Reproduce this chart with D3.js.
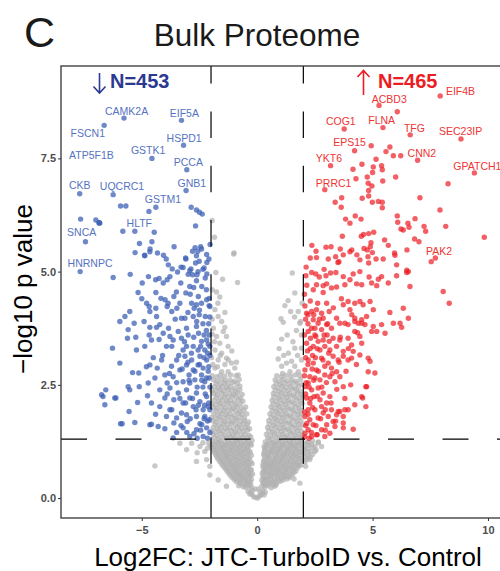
<!DOCTYPE html>
<html>
<head>
<meta charset="utf-8">
<script src="https://cdn.jsdelivr.net/npm/d3@7"></script>
<style>
  body { margin: 0; background: #fff; }
  svg { display: block; }
  text { font-family: "Liberation Sans", Arial, Helvetica, sans-serif; }
</style>
</head>
<body>
<div id="chart"></div>
<script>

//data: [log2FC, -log10 p]
var downReg = [
  [-5.92,6.45],[-5.69,6.45],[-4.69,6.33],[-2.86,6.42],[-2.63,6.36],[-2.50,6.31],[-2.38,6.27],[-7.65,6.16],
  [-6.99,6.14],[-6.85,6.08],[-6.82,6.07],[-2.67,6.01],[-5.82,5.89],[-4.46,5.87],[-2.04,5.60],[-5.10,5.62],
  [-4.56,5.66],[-4.64,5.50],[-5.29,5.42],[-4.87,5.35],[-4.32,5.41],[-4.06,5.36],[-3.94,5.28],[-2.69,5.53],
  [-2.41,5.50],[-2.63,5.35],[-2.19,5.38],[-3.09,5.28],[-2.51,5.23],[-2.09,5.28],[-2.67,5.19],[-3.68,5.06],
  [-3.45,4.99],[-3.21,5.09],[-2.92,5.02],[-2.80,4.93],[-2.56,5.00],[-2.30,5.08],[-4.88,5.36],[-4.65,5.44],
  [-3.10,5.30],[-2.57,5.45],
  [-6.24,4.87],[-5.50,4.94],[-4.71,4.89],[-4.98,4.75],[-4.40,4.82],[-4.07,4.75],[-3.90,4.82],[-3.31,4.75],
  [-3.09,4.53],[-2.99,4.94],[-2.87,5.06],[-2.61,4.93],[-2.63,4.80],[-2.25,4.86],[-2.40,4.67],[-2.92,4.67],
  [-3.78,4.89],[-5.16,4.54],[-4.39,4.54],
  [-4.79,4.30],[-4.68,4.23],[-4.65,4.12],[-4.39,4.19],[-4.17,4.41],[-3.99,4.38],[-3.86,4.30],[-3.90,4.23],
  [-3.61,4.45],[-3.70,4.12],[-3.48,4.19],[-3.35,4.30],[-3.13,3.97],[-2.84,4.30],[-2.73,4.19],[-2.63,4.27],
  [-2.41,4.30],[-2.19,4.38],[-2.08,4.41],[-2.05,4.23],[-2.25,4.01],[-2.51,4.05],[-2.77,4.01],[-3.28,3.97],
  [-4.36,4.01],[-5.52,4.12],[-5.73,4.01],[-5.95,3.90],[-5.59,3.72],
  [-5.33,3.86],[-5.26,3.55],[-4.65,3.77],[-4.36,3.77],[-4.68,3.60],[-4.58,3.49],[-4.22,3.83],[-4.07,3.64],
  [-3.84,3.75],[-3.78,3.57],[-3.93,3.35],[-3.64,3.49],[-3.42,3.68],[-3.28,3.53],[-3.21,3.27],[-3.06,3.75],
  [-2.99,3.60],[-2.77,3.35],[-2.63,3.79],[-2.54,3.64],[-2.41,3.46],[-2.27,3.27],[-2.19,3.49],[-2.08,3.60],
  [-2.56,3.27],[-3.06,3.35],[-4.87,3.35],[-6.27,3.31],[-5.95,2.98],[-5.23,3.27],[-5.62,3.53],
  [-5.40,2.77],[-5.13,2.76],[-4.72,2.54],[-4.65,2.94],[-4.33,2.87],[-4.14,3.05],[-4.00,2.72],[-3.90,2.54],
  [-3.71,2.91],[-3.64,2.68],[-3.49,3.05],[-3.35,2.83],[-3.21,2.57],[-3.13,3.13],[-3.06,2.94],[-2.95,2.72],
  [-2.84,3.05],[-2.77,2.83],[-2.70,2.61],[-2.56,2.94],[-2.48,3.13],[-2.41,2.72],[-2.34,2.87],[-2.27,2.57],
  [-2.19,3.05],[-2.12,2.80],[-2.08,2.65],[-2.92,2.54],[-3.49,2.55],[-4.43,2.65],
  [-6.68,2.24],[-6.60,2.06],[-6.12,2.21],[-5.55,1.91],[-5.18,2.11],[-5.11,2.46],[-4.75,2.26],[-4.58,2.10],
  [-5.52,2.39],[-4.22,2.39],[-4.00,2.21],[-3.78,2.43],[-3.61,2.17],[-3.42,2.32],[-3.21,2.10],[-3.06,2.39],
  [-2.92,2.21],[-2.77,2.02],[-2.63,2.32],[-2.48,2.13],[-2.34,1.95],[-2.19,2.24],[-2.12,2.02],[-3.78,1.95],
  [-3.28,1.88],[-4.22,2.02],
  [-5.92,1.64],[-5.30,1.67],[-4.65,1.62],[-4.29,1.58],[-4.00,1.53],[-3.61,1.66],[-3.49,1.45],[-3.21,1.55],
  [-3.03,1.69],[-2.92,1.36],[-2.74,1.42],[-2.63,1.51],[-2.48,1.64],[-2.34,1.36],[-2.19,1.55],[-2.08,1.73],
  [-2.27,1.80],[-2.63,1.80],[-3.06,1.84],[-3.49,1.77],[-3.93,1.80],
  [-6.74,2.28],[-6.56,2.39],[-6.17,2.21],[-5.59,2.46],[-5.85,1.64],[-4.58,1.63],[-3.64,1.33],
  [-2.05,1.45],[-2.15,1.70],[-2.10,2.10],[-2.05,2.45],[-2.10,2.90],[-2.05,3.15],[-2.10,3.85],[-2.05,4.00],
  [-2.20,3.70],[-2.30,3.10],[-2.35,2.45],[-2.30,1.75],[-2.45,1.50],[-2.40,2.60],[-2.50,2.95],[-2.45,3.35],
  [-2.35,3.85],[-2.50,4.15],[-2.60,2.45],[-2.65,1.95],[-2.70,2.80],[-2.75,3.55],[-2.85,3.20],[-2.80,2.20],
  [-2.90,1.75],[-2.95,2.60],[-3.00,3.00],[-3.10,2.10],[-3.15,3.45],[-3.25,2.85],[-3.35,2.20],[-3.40,3.15],
  [-2.20,4.60],[-2.35,5.05],[-2.15,1.32],[-2.60,1.32],[-3.05,1.45],[-2.25,2.30],[-2.55,2.05],[-2.20,2.65],
  [-2.12,3.40],[-2.62,3.90],[-3.00,4.10],[-2.90,4.50],[-3.50,4.55],[-3.55,3.95],[-3.70,3.35],[-3.80,2.75],
  [-3.90,2.30],[-4.10,3.15],[-4.25,3.50],[-4.50,3.10],[-4.80,2.90],[-4.90,3.90],[-5.00,4.40],[-3.30,1.60],
  [-3.70,1.95],[-4.40,1.85],[-2.08,4.25],[-2.18,5.20],[-2.45,5.55],[-2.80,5.45],[-3.30,5.10],[-3.60,5.55],
  [-3.85,5.15],[-4.25,4.85],[-2.15,3.20],[-2.28,2.05],[-2.40,1.62],[-2.05,1.95],[-2.05,3.35],[-2.30,3.60],
  [-2.55,4.45],[-2.75,4.65],[-2.18,4.95]
];

var upReg = [
  [6.07,8.53],[5.58,7.65],[5.75,7.75],[5.90,7.56],[6.22,7.56],[5.15,7.48],[4.54,7.37],[5.03,7.31],
  [5.39,7.34],[5.42,7.25],[4.15,7.26],[5.00,7.19],[4.77,7.09],[5.44,7.00],[6.00,7.09],[4.28,7.05],
  [4.81,6.95],[4.97,6.89],[8.27,6.94],[4.83,6.79],[4.83,6.67],[4.55,6.62],[7.05,6.63],[3.66,6.63],
  [3.38,6.53],[3.64,6.42],[4.99,6.53],[5.25,6.55],[5.42,6.53],[5.42,6.41],[7.92,6.36],[3.83,6.16],
  [4.02,6.07],[4.25,6.23],[4.50,6.16],[6.07,6.23],[6.09,6.09],[6.84,6.17],[6.53,6.07],[6.58,5.98],
  [6.23,5.94],[6.33,5.92],[7.23,6.00],[7.30,5.89],[8.17,6.00],[9.84,5.76],[3.69,5.78],[2.37,5.58],
  [2.98,5.54],[4.51,5.78],[4.61,5.82],[4.83,5.84],[5.05,5.87],[4.93,5.64],[4.90,5.55],[3.60,5.50],
  [4.02,5.44],[4.10,5.48],[4.63,5.51],[4.77,5.48],[4.99,5.42],[5.52,5.70],[5.68,5.58],[5.95,5.41],
  [6.49,5.48],[6.82,5.72],[7.01,5.66],[2.57,5.31],[3.08,5.28],[3.40,5.33],[3.54,5.22],[3.73,5.37],
  [4.32,5.37],[4.45,5.26],[4.80,5.33],[4.83,5.19],[5.15,5.28],[5.46,5.28],[5.97,5.36],[6.04,5.15],
  [6.48,5.03],[6.55,5.00],[4.94,7.78],[7.54,5.22],
  [2.36,4.98],[2.54,4.95],[2.11,4.91],[2.69,4.88],[2.98,4.91],[3.18,4.97],[3.41,4.98],[3.73,4.89],
  [4.16,4.95],[4.45,5.00],[4.85,4.88],[5.25,4.83],[5.39,4.89],[6.04,4.91],[6.48,4.98],[2.57,4.71],
  [2.86,4.69],[3.01,4.73],[3.44,4.66],[3.80,4.71],[4.02,4.82],[4.31,4.73],[4.53,4.71],[4.96,4.75],
  [5.18,4.69],[5.68,4.75],[6.62,4.67],[2.43,4.60],[2.86,4.54],[3.22,4.64],[8.06,4.56],[8.32,4.30],
  [2.07,4.24],[2.14,4.08],[2.36,4.12],[2.57,4.16],[2.79,4.08],[3.01,4.30],[3.12,4.12],[2.86,3.97],
  [2.64,3.86],[2.43,3.94],[2.50,3.75],[2.79,3.72],[3.01,3.83],[3.22,3.75],[3.44,3.97],[3.58,3.86],
  [3.73,4.27],[3.94,4.34],[4.02,4.16],[4.23,4.30],[4.45,4.34],[4.59,4.27],[4.89,4.34],[5.03,4.16],
  [3.80,3.86],[3.94,3.83],[4.23,3.90],[4.38,3.86],[4.53,3.94],[4.67,3.83],[4.74,4.01],[4.96,3.68],
  [5.18,3.68],[5.03,3.79],[5.39,3.83],[5.54,3.64],[5.75,4.10],[5.90,3.86],[6.19,3.86],[6.33,4.19],
  [6.55,3.97],[6.26,3.77],[4.23,3.97],[4.53,3.86],
  [2.14,3.42],[2.21,3.68],[2.31,3.53],[2.43,3.35],[2.54,3.57],[2.64,3.46],[2.72,3.27],[2.86,3.49],
  [2.93,3.35],[3.03,3.60],[3.12,3.46],[3.15,3.27],[3.29,3.53],[3.44,3.35],[3.58,3.49],[3.73,3.24],
  [3.94,3.53],[4.09,3.38],[4.16,3.24],[4.23,3.68],[4.45,3.57],[4.53,3.42],[3.29,3.13],[3.51,3.05],
  [3.73,3.13],[3.94,3.05],[4.09,3.09],[4.45,3.16],[4.81,3.09],[4.89,3.02],[2.21,3.05],[2.43,2.98],
  [2.57,2.83],[2.79,3.09],[2.93,2.91],[3.08,2.98],[3.22,2.87],[3.44,2.79],[3.58,2.68],[3.73,2.46],
  [2.07,2.83],[2.28,2.68],[2.50,2.65],[2.72,2.61],[2.93,2.72],[3.15,2.68],[3.37,2.57],[4.74,2.46],
  [4.81,2.79],[5.10,2.76],
  [2.07,2.46],[2.21,2.54],[2.36,2.39],[2.14,2.21],[2.28,2.10],[2.46,2.24],[2.64,2.43],[2.72,2.17],
  [2.86,2.32],[3.01,2.10],[3.15,2.24],[2.79,2.02],[2.50,1.95],[2.21,1.95],[2.07,1.80],[2.28,1.73],
  [2.43,1.62],[2.64,1.77],[2.86,1.88],[3.08,1.80],[3.22,1.95],[3.29,1.69],[3.44,1.84],[3.58,1.91],
  [3.73,1.80],[3.73,1.66],[3.37,1.58],[3.01,1.62],[2.79,1.51],[2.57,1.40],[2.21,1.51],[2.07,1.43],
  [2.36,1.36],[2.93,1.36],[3.15,1.43],[3.73,1.55],[3.80,1.95],[3.94,1.95],[4.23,2.06],[4.57,2.21],
  [4.71,2.02],[4.71,2.46],[4.53,2.24],[3.51,1.91],[4.16,1.52],
  [2.05,1.35],[2.10,1.60],[2.05,1.90],[2.10,2.30],[2.05,2.70],[2.10,3.10],[2.05,3.60],[2.10,3.95],
  [2.05,4.50],[2.20,1.85],[2.25,2.45],[2.20,2.95],[2.30,3.30],[2.20,3.85],[2.30,4.35],[2.15,4.70],
  [2.35,1.45],[2.40,2.00],[2.45,2.60],[2.40,3.15],[2.50,3.60],[2.45,4.05],[2.55,1.60],[2.60,2.25],
  [2.65,2.80],[2.60,3.30],[2.70,3.95],[2.75,1.75],[2.80,2.45],[2.85,3.05],[2.90,3.60],[2.95,1.95],
  [3.00,2.55],[3.10,3.20],[3.05,3.85],[3.20,2.10],[3.25,2.75],[3.30,4.20],[3.40,1.70],[3.45,2.40],
  [3.55,3.00],[3.60,3.55],[3.65,4.40],[3.80,2.20],[3.85,2.80],[3.95,3.30],[4.05,2.50],[4.10,4.05],
  [4.30,2.95],[4.35,3.65],[2.12,5.10],[2.30,5.30],[2.55,5.45],[2.90,5.05],[3.20,5.55],[3.50,5.20],
  [2.25,1.32],[2.60,1.40],[2.95,1.50],[2.15,1.65],[2.32,2.20],[2.12,2.55],[2.38,2.85],[2.18,3.25],
  [2.52,3.10],[2.35,3.75],[2.62,4.30],[2.20,4.05]
];

var notSig = [
  [-0.15,0.03],[-0.06,0.01],[0.02,0.00],[0.08,0.04],[0.15,0.06],[-0.22,0.08],[0.22,0.10],
  [-0.40,0.15],[-0.30,0.12],[-0.20,0.17],[0.12,0.14],[0.25,0.16],[0.35,0.13],[-0.10,0.20],[0.05,0.20],
  [-0.80,0.27],[-0.60,0.25],[-0.48,0.24],[-0.35,0.27],[-0.25,0.23],[0.20,0.26],[0.32,0.24],[0.45,0.27],[0.60,0.23],[0.75,0.26],
  [-0.90,0.36],[-0.75,0.34],[-0.60,0.37],[-0.45,0.34],[-0.30,0.36],[0.25,0.35],[0.40,0.37],[0.55,0.33],[0.70,0.36],[0.85,0.34],[1.00,0.37],
  [-1.10,0.46],[-0.95,0.44],[-0.80,0.47],[-0.65,0.45],[-0.50,0.43],[-0.35,0.47],[0.28,0.45],[0.42,0.43],[0.58,0.47],[0.75,0.44],[0.90,0.46],[1.05,0.43],[1.20,0.47],[1.40,0.45],
  [-1.25,0.56],[-1.10,0.54],[-0.95,0.57],[-0.80,0.53],[-0.65,0.56],[-0.50,0.54],[-0.35,0.57],[-0.20,0.53],[0.22,0.55],[0.35,0.57],[0.50,0.53],[0.65,0.56],[0.80,0.54],[0.95,0.57],[1.10,0.53],[1.25,0.56],[1.45,0.54],[1.60,0.57],
  [-1.40,0.66],[-1.25,0.64],[-1.10,0.67],[-0.95,0.63],[-0.80,0.66],[-0.62,0.64],[-0.45,0.67],[-0.30,0.63],[0.30,0.65],[0.45,0.67],[0.60,0.63],[0.75,0.66],[0.92,0.64],[1.08,0.67],[1.25,0.63],[1.40,0.66],[1.58,0.64],[1.75,0.67],
  [-1.55,0.76],[-1.40,0.74],[-1.22,0.77],[-1.05,0.73],[-0.90,0.76],[-0.72,0.74],[-0.55,0.77],[-0.38,0.73],[-0.22,0.76],[0.25,0.74],[0.40,0.77],[0.55,0.73],[0.72,0.76],[0.88,0.74],[1.05,0.77],[1.20,0.73],[1.38,0.76],[1.55,0.74],[1.72,0.77],[1.90,0.73],
  [-1.70,0.86],[-1.52,0.84],[-1.35,0.87],[-1.18,0.83],[-1.00,0.86],[-0.85,0.84],[-0.68,0.87],[-0.50,0.83],[-0.33,0.86],[0.30,0.84],[0.48,0.87],[0.65,0.83],[0.80,0.86],[0.97,0.84],[1.12,0.87],[1.30,0.83],[1.48,0.86],[1.65,0.84],[1.82,0.87],[2.00,0.83],[2.15,0.86],
  [-1.80,0.96],[-1.62,0.94],[-1.45,0.97],[-1.30,0.93],[-1.12,0.96],[-0.95,0.94],[-0.78,0.97],[-0.60,0.93],[-0.42,0.96],[-0.25,0.94],[0.28,0.96],[0.45,0.93],[0.60,0.97],[0.78,0.94],[0.95,0.96],[1.12,0.93],[1.30,0.97],[1.45,0.94],[1.62,0.96],[1.80,0.93],[1.98,0.97],[2.20,0.94],[2.40,0.96],
  [-1.90,1.06],[-1.72,1.04],[-1.55,1.07],[-1.38,1.03],[-1.20,1.06],[-1.05,1.04],[-0.88,1.07],[-0.70,1.03],[-0.52,1.06],[-0.35,1.04],[0.32,1.06],[0.50,1.03],[0.68,1.07],[0.85,1.04],[1.00,1.06],[1.18,1.03],[1.35,1.07],[1.52,1.04],[1.70,1.06],[1.88,1.03],[2.05,1.07],[2.30,1.04],[2.55,1.06],
  [-2.00,1.16],[-1.82,1.14],[-1.65,1.17],[-1.48,1.13],[-1.30,1.16],[-1.12,1.14],[-0.95,1.17],[-0.78,1.13],[-0.60,1.16],[-0.42,1.14],[-0.25,1.17],[0.30,1.14],[0.45,1.17],[0.62,1.13],[0.80,1.16],[0.98,1.14],[1.15,1.17],[1.32,1.13],[1.50,1.16],[1.68,1.14],[1.85,1.17],[2.05,1.13],[2.25,1.16],[2.50,1.14],
  [-1.95,1.26],[-1.78,1.24],[-1.60,1.27],[-1.42,1.23],[-1.25,1.26],[-1.08,1.24],[-0.90,1.27],[-0.72,1.23],[-0.55,1.26],[-0.38,1.24],[-0.22,1.27],[0.35,1.24],[0.52,1.27],[0.70,1.23],[0.88,1.26],[1.05,1.24],[1.22,1.27],[1.40,1.23],[1.58,1.26],[1.75,1.24],[1.92,1.27],[2.15,1.23],[2.40,1.26],[2.65,1.24],
  [-1.92,1.41],[-1.75,1.38],[-1.58,1.42],[-1.40,1.39],[-1.22,1.41],[-1.05,1.38],[-0.88,1.42],[-0.70,1.39],[-0.52,1.41],[-0.35,1.38],[0.40,1.41],[0.58,1.38],[0.75,1.42],[0.92,1.39],[1.10,1.41],[1.28,1.38],[1.45,1.42],[1.62,1.39],[1.80,1.41],[1.95,1.38],
  [-1.90,1.56],[-1.72,1.53],[-1.55,1.57],[-1.38,1.54],[-1.20,1.56],[-1.02,1.53],[-0.85,1.57],[-0.68,1.54],[-0.50,1.56],[-0.33,1.53],[0.45,1.56],[0.62,1.53],[0.80,1.57],[0.98,1.54],[1.15,1.56],[1.32,1.53],[1.50,1.57],[1.68,1.54],[1.85,1.56],
  [-1.95,1.71],[-1.78,1.68],[-1.60,1.72],[-1.42,1.69],[-1.25,1.71],[-1.08,1.68],[-0.90,1.72],[-0.72,1.69],[-0.55,1.71],[-0.38,1.68],[0.50,1.71],[0.68,1.68],[0.85,1.72],[1.02,1.69],[1.20,1.71],[1.38,1.68],[1.55,1.72],[1.72,1.69],[1.90,1.71],
  [-1.88,1.86],[-1.70,1.83],[-1.52,1.87],[-1.35,1.84],[-1.18,1.86],[-1.00,1.83],[-0.82,1.87],[-0.65,1.84],[-0.45,1.86],[0.55,1.86],[0.72,1.83],[0.90,1.87],[1.08,1.84],[1.25,1.86],[1.42,1.83],[1.60,1.87],[1.78,1.84],[1.95,1.86],
  [-1.92,2.01],[-1.75,1.98],[-1.58,2.02],[-1.40,1.99],[-1.22,2.01],[-1.05,1.98],[-0.88,2.02],[-0.70,1.99],[-0.50,2.01],[0.60,2.01],[0.78,1.98],[0.95,2.02],[1.12,1.99],[1.30,2.01],[1.48,1.98],[1.65,2.02],[1.82,1.99],
  [-1.85,2.16],[-1.68,2.13],[-1.50,2.17],[-1.32,2.14],[-1.15,2.16],[-0.98,2.13],[-0.80,2.17],[-0.62,2.14],[0.65,2.16],[0.82,2.13],[1.00,2.17],[1.18,2.14],[1.35,2.16],[1.52,2.13],[1.70,2.17],[1.88,2.14],
  [-1.90,2.31],[-1.72,2.28],[-1.55,2.32],[-1.38,2.29],[-1.20,2.31],[-1.02,2.28],[-0.85,2.32],[-0.65,2.29],[0.70,2.31],[0.88,2.28],[1.05,2.32],[1.22,2.29],[1.40,2.31],[1.58,2.28],[1.75,2.32],[1.92,2.29],
  [-1.85,2.46],[-1.68,2.43],[-1.50,2.47],[-1.32,2.44],[-1.15,2.46],[-0.95,2.43],[-0.75,2.47],[0.72,2.46],[0.90,2.43],[1.08,2.47],[1.25,2.44],[1.45,2.46],[1.62,2.43],[1.80,2.47],
  [-1.90,2.61],[-1.72,2.58],[-1.55,2.62],[-1.38,2.59],[-1.18,2.61],[-0.98,2.58],[-0.78,2.62],[0.78,2.61],[0.95,2.58],[1.12,2.62],[1.30,2.59],[1.50,2.61],[1.68,2.58],[1.88,2.62],
  //second pass, in between
  [-0.32,0.09],[0.30,0.07],[-0.70,0.31],[-0.53,0.29],[-0.40,0.32],[-0.28,0.30],[0.28,0.31],[0.38,0.29],[0.52,0.32],[0.68,0.30],[0.82,0.29],
  [-1.00,0.41],[-0.83,0.39],[-0.68,0.42],[-0.52,0.40],[-0.38,0.38],[-0.25,0.41],[0.20,0.40],[0.33,0.42],[0.48,0.39],[0.62,0.41],[0.78,0.38],[0.95,0.41],[1.12,0.40],[1.28,0.42],
  [-1.18,0.51],[-1.02,0.49],[-0.87,0.52],[-0.72,0.50],[-0.57,0.48],[-0.42,0.51],[-0.28,0.50],[0.25,0.49],[0.42,0.51],[0.57,0.50],[0.72,0.52],[0.87,0.49],[1.02,0.51],[1.18,0.50],[1.35,0.48],[1.52,0.51],
  [-1.32,0.61],[-1.17,0.59],[-1.02,0.62],[-0.88,0.60],[-0.72,0.58],[-0.55,0.61],[-0.40,0.60],[-0.25,0.62],[0.27,0.59],[0.40,0.61],[0.55,0.60],[0.70,0.62],[0.87,0.59],[1.00,0.61],[1.17,0.60],[1.32,0.58],[1.50,0.61],[1.68,0.60],
  [-1.48,0.71],[-1.32,0.69],[-1.17,0.72],[-1.00,0.70],[-0.85,0.68],[-0.70,0.71],[-0.53,0.70],[-0.37,0.72],[0.25,0.69],[0.38,0.71],[0.52,0.70],[0.68,0.72],[0.83,0.69],[1.00,0.71],[1.15,0.70],[1.32,0.68],[1.48,0.71],[1.65,0.70],[1.82,0.72],
  [-1.62,0.81],[-1.45,0.79],[-1.30,0.82],[-1.12,0.80],[-0.95,0.78],[-0.78,0.81],[-0.62,0.80],[-0.45,0.82],[-0.28,0.79],[0.28,0.81],[0.45,0.80],[0.60,0.78],[0.77,0.81],[0.93,0.80],[1.10,0.82],[1.27,0.79],[1.43,0.81],[1.60,0.80],[1.78,0.78],[1.95,0.81],[2.08,0.80],
  [-1.75,0.91],[-1.58,0.89],[-1.42,0.92],[-1.25,0.90],[-1.08,0.88],[-0.92,0.91],[-0.75,0.90],[-0.58,0.92],[-0.40,0.89],[0.32,0.91],[0.50,0.90],[0.68,0.88],[0.85,0.91],[1.02,0.90],[1.20,0.92],[1.37,0.89],[1.55,0.91],[1.72,0.90],[1.90,0.88],[2.08,0.91],[2.30,0.90],
  [-1.85,1.01],[-1.68,0.99],[-1.50,1.02],[-1.33,1.00],[-1.17,0.98],[-1.00,1.01],[-0.82,1.00],[-0.65,1.02],[-0.48,0.99],[-0.30,1.01],[0.30,1.00],[0.47,0.98],[0.63,1.01],[0.80,1.00],[0.97,1.02],[1.15,0.99],[1.32,1.01],[1.50,1.00],[1.67,0.98],[1.85,1.01],[2.02,1.00],[2.20,1.02],
  [-1.95,1.11],[-1.78,1.09],[-1.60,1.12],[-1.43,1.10],[-1.25,1.08],[-1.08,1.11],[-0.92,1.10],[-0.75,1.12],[-0.57,1.09],[-0.40,1.11],[0.35,1.10],[0.55,1.08],[0.72,1.11],[0.90,1.10],[1.07,1.12],[1.25,1.09],[1.42,1.11],[1.60,1.10],[1.78,1.08],[1.95,1.11],[2.15,1.10],[2.40,1.12],
  [-2.10,1.21],[-1.88,1.19],[-1.70,1.22],[-1.53,1.20],[-1.37,1.18],[-1.20,1.21],[-1.02,1.20],[-0.85,1.22],[-0.67,1.19],[-0.48,1.21],[-0.30,1.20],[0.40,1.18],[0.58,1.21],[0.75,1.20],[0.92,1.22],[1.10,1.19],[1.28,1.21],[1.45,1.20],[1.62,1.18],[1.80,1.21],[1.98,1.20],[2.20,1.22],[2.35,1.19],
  [-1.85,1.33],[-1.68,1.31],[-1.50,1.34],[-1.33,1.32],[-1.15,1.35],[-0.97,1.33],[-0.80,1.31],[-0.62,1.34],[-0.45,1.32],[-0.28,1.35],[0.45,1.33],[0.65,1.31],[0.82,1.34],[1.00,1.32],[1.18,1.35],[1.35,1.33],[1.52,1.31],[1.70,1.34],[1.88,1.32],
  [-1.98,1.48],[-1.82,1.46],[-1.65,1.49],[-1.48,1.47],[-1.30,1.50],[-1.12,1.48],[-0.95,1.46],[-0.78,1.49],[-0.60,1.47],[-0.42,1.50],[0.50,1.48],[0.68,1.46],[0.87,1.49],[1.05,1.47],[1.22,1.50],[1.40,1.48],[1.57,1.46],[1.75,1.49],[1.92,1.47],
  [-1.82,1.63],[-1.65,1.61],[-1.47,1.64],[-1.30,1.62],[-1.12,1.65],[-0.95,1.63],[-0.78,1.61],[-0.60,1.64],[-0.43,1.62],[0.52,1.63],[0.72,1.61],[0.90,1.64],[1.08,1.62],[1.25,1.65],[1.43,1.63],[1.62,1.61],[1.80,1.64],[1.97,1.62],
  [-1.98,1.78],[-1.80,1.76],[-1.62,1.79],[-1.45,1.77],[-1.28,1.80],[-1.10,1.78],[-0.92,1.76],[-0.75,1.79],[-0.55,1.77],[0.60,1.78],[0.78,1.76],[0.95,1.79],[1.12,1.77],[1.30,1.80],[1.48,1.78],[1.67,1.76],[1.85,1.79],
  [-1.80,1.93],[-1.62,1.91],[-1.45,1.94],[-1.28,1.92],[-1.10,1.95],[-0.93,1.93],[-0.75,1.91],[-0.57,1.94],[0.65,1.93],[0.83,1.91],[1.00,1.94],[1.18,1.92],[1.37,1.95],[1.55,1.93],[1.73,1.91],[1.90,1.94],
  [-1.97,2.08],[-1.80,2.06],[-1.62,2.09],[-1.45,2.07],[-1.27,2.10],[-1.10,2.08],[-0.92,2.06],[-0.72,2.09],[0.68,2.08],[0.87,2.06],[1.05,2.09],[1.23,2.07],[1.42,2.10],[1.60,2.08],[1.78,2.06],[1.95,2.09],
  [-1.78,2.23],[-1.60,2.21],[-1.42,2.24],[-1.25,2.22],[-1.07,2.25],[-0.90,2.23],[-0.72,2.21],[0.72,2.23],[0.92,2.21],[1.10,2.24],[1.28,2.22],[1.45,2.25],[1.63,2.23],[1.82,2.21],[1.97,2.24],
  [-1.97,2.38],[-1.80,2.36],[-1.62,2.39],[-1.45,2.37],[-1.28,2.40],[-1.10,2.38],[-0.93,2.36],[-0.75,2.39],[0.78,2.38],[0.97,2.36],[1.15,2.39],[1.33,2.37],[1.52,2.40],[1.70,2.38],[1.87,2.36],
  [-1.78,2.53],[-1.60,2.51],[-1.42,2.54],[-1.25,2.52],[-1.05,2.55],[-0.85,2.53],[0.82,2.53],[1.00,2.51],[1.18,2.54],[1.38,2.52],[1.55,2.55],[1.73,2.53],[1.95,2.51],
  [-1.95,2.70],[-1.75,2.68],[-1.60,2.71],[-1.40,2.69],[-1.15,2.72],[-0.92,2.70],[0.85,2.70],[1.05,2.68],[1.25,2.71],[1.45,2.69],[1.65,2.72],[1.85,2.70],
  //upper arms
  [-1.83,2.87],[-1.54,2.79],[-1.26,2.79],[-0.97,2.87],[-0.82,2.72],[-1.69,3.05],[-1.11,2.98],[-1.33,3.09],[-1.54,3.20],[-1.83,3.27],
  [-1.26,3.35],[-1.62,3.42],[-1.76,3.57],[-1.33,3.57],[-1.47,3.68],[-1.40,3.77],[-1.54,3.90],[-1.69,4.01],
  [-1.83,4.16],[-1.62,4.44],[-1.76,4.55],[-0.85,4.76],[-1.50,4.83],[-1.79,4.98],[-1.00,5.41],[-1.02,5.39],
  [-1.95,6.13],[-1.85,5.76],[-1.90,3.75],[-1.92,2.95],
  [-1.72,2.90],[-1.40,2.95],[-1.98,3.10],[-1.60,3.15],[-1.85,3.45],[-1.95,3.62],[-1.10,3.25],[-1.25,3.05],
  [-0.90,3.00],[-1.95,3.95],[-1.70,4.30],[-1.95,4.60],[-1.40,4.10],
  [1.52,4.97],[1.63,4.53],[1.34,4.36],[1.78,4.12],[1.45,4.12],[1.03,3.96],[1.13,3.88],[1.06,3.51],
  [1.63,3.31],[1.92,3.31],[0.91,3.07],[1.27,2.98],[1.49,3.02],[1.63,2.91],[1.06,2.91],[1.42,2.79],
  [1.78,2.79],[1.92,3.05],[1.85,3.86],[1.92,3.60],[1.70,3.70],
  [1.15,3.15],[1.35,3.20],[1.75,3.15],[1.55,3.45],[1.30,3.60],[1.88,3.90],[1.62,4.00],[1.95,4.30],
  [1.20,4.25],[0.95,3.30],[1.10,2.75],
  //outside the fold-change limits, not significant
  [-3.35,1.21],[-3.06,1.07],[-2.84,1.21],[-2.48,1.14],[-2.27,1.03],[-2.19,0.85],[-2.05,0.70],[-2.63,0.81],
  [-4.43,0.71],[-2.05,0.51],[-1.69,0.40],[-1.33,0.26],[-2.35,1.22],[-2.15,1.10],[-2.60,1.00],
  [2.50,1.03],[2.79,1.14],[2.28,0.85],[1.85,0.33],[2.64,1.22],[2.10,0.70],[1.60,0.42]
];

//labelled genes: [name, log2FC, -log10 p]
var genesDown = [
  ["CAMK2A",-5.77,8.39],["FSCN1",-6.63,8.23],["EIF5A",-3.28,8.34],["HSPD1",-3.19,7.79],
  ["ATP5F1B",-6.85,6.08],["GSTK1",-4.56,7.50],["PCCA",-3.05,7.25],["CKB",-7.69,6.72],
  ["UQCRC1",-6.24,6.70],["GNB1",-3.08,6.79],["GSTM1",-4.39,6.42],["HLTF",-5.30,5.89],
  ["SNCA",-7.44,5.66],["HNRNPC",-7.67,5.00]
];
var genesUp = [
  ["EIF4B",7.93,8.88],["ACBD3",5.28,8.67],["COG1",3.77,8.15],["FLNA",5.45,8.18],
  ["TFG",6.63,8.02],["SEC23IP",8.83,7.93],["EPS15",4.22,7.67],["CNN2",6.95,7.46],
  ["YKT6",3.18,7.34],["GPATCH1",9.41,7.18],["PRRC1",2.93,6.81],["PAK2",7.72,5.30]
];

var xTicks = [-5, 0, 5, 10];
var yTicks = [0, 2.5, 5, 7.5];
var fcCut = 2;
var pCut = 1.301;
var nDown = 453;
var nUp = 465;


//label placement (px offset from the point)
var labelOffset = {
  CAMK2A: [-19, -2.6], FSCN1: [-33.6, 11.7], EIF5A: [-11.7, -3.7], HSPD1: [-17, -3.3],
  ATP5F1B: [-30, -64], GSTK1: [-21, -4], PCCA: [-13, -3.3], CKB: [-10.7, -5],
  UQCRC1: [-13.3, -4.3], GNB1: [-8.6, -3.7], GSTM1: [-11, -4.4], HLTF: [-8.3, -4.6],
  SNCA: [-18.4, -5.3], HNRNPC: [-12.6, -4.4],
  EIF4B: [5.7, -1], ACBD3: [-7.3, -2.4], COG1: [-18.3, -4.3], FLNA: [-14.7, -3.7],
  TFG: [-6.3, -3.3], SEC23IP: [-22, -4], EPS15: [-21.4, -5], CNN2: [-10, -3],
  YKT6: [-14.7, -4], GPATCH1: [-21, -3], PRRC1: [-9, -2.7], PAK2: [-9.3, -3.3]
};

var W = 500, H = 571;
var margin = {top: 66, left: 61, bottom: 53};

var xScale = d3.scaleLinear()
                .domain([-8.5, 11.5])
                .range([margin.left, margin.left + 20 * 23.08]);

var yScale = d3.scaleLinear()
                .domain([-0.44, 9.54])
                .range([H - margin.bottom, margin.top]);

var blue = "#3f62b5", red = "#ec1c24", grey = "#b0b0b0";

var svg = d3.select("#chart")
            .append("svg")
            .attr("width", W)
            .attr("height", H);


//points
function drawPoints(data, col, op) {
  svg.append("g")
      .selectAll("circle")
      .data(data)
      .enter()
      .append("circle")
      .attr("cx", function(d) {return xScale(d[0]);})
      .attr("cy", function(d) {return yScale(d[1]);})
      .attr("r", 2.7)
      .style("fill", col)
      .style("fill-opacity", op);
}

drawPoints(notSig, grey, 0.7);
drawPoints(downReg, blue, 0.75);
drawPoints(upReg, red, 0.7);
drawPoints(genesDown.map(function(g) {return [g[1], g[2]];}), blue, 0.75);
drawPoints(genesUp.map(function(g) {return [g[1], g[2]];}), red, 0.7);


//threshold lines
var x0 = xScale.range()[0], x1 = xScale.range()[1];
var y0 = yScale.range()[0], y1 = yScale.range()[1];

[-fcCut, fcCut].forEach(function(v) {
  svg.append("line")
      .attr("x1", xScale(v)).attr("x2", xScale(v))
      .attr("y1", y0).attr("y2", y1)
      .style("stroke", "#000")
      .style("stroke-width", 1.2)
      .style("stroke-dasharray", "26.5,27.8");
});

svg.append("line")
    .attr("x1", x0).attr("x2", x1)
    .attr("y1", yScale(pCut)).attr("y2", yScale(pCut))
    .style("stroke", "#000")
    .style("stroke-width", 1.2)
    .style("stroke-dasharray", "26,28.5");


//panel border
svg.append("rect")
    .attr("x", x0)
    .attr("y", y1)
    .attr("width", x1 - x0)
    .attr("height", y0 - y1)
    .style("fill", "none")
    .style("stroke", "#333")
    .style("stroke-width", 1.3);


//axes
var yAxis = d3.axisLeft(yScale)
              .tickValues(yTicks)
              .tickSize(3)
              .tickPadding(2)
              .tickFormat(d3.format(".1f"));

var xAxis = d3.axisBottom(xScale)
              .tickValues(xTicks)
              .tickSize(3)
              .tickPadding(5)
              .tickFormat(function(d) {return d < 0 ? "\u2212" + Math.abs(d) : d;});

var gy = svg.append("g")
    .attr("transform", "translate(" + x0 + ",0)")
    .call(yAxis);

var gx = svg.append("g")
    .attr("transform", "translate(0," + y0 + ")")
    .call(xAxis);

[gx, gy].forEach(function(g) {
  g.select(".domain").remove();
  g.selectAll("line").style("stroke", "#333");
  g.selectAll("text")
    .style("font-family", "'Liberation Sans', Arial, sans-serif")
    .style("font-size", "11px")
    .style("font-weight", "bold")
    .style("fill", "#4d4d4d");
});


//gene labels
function drawLabels(data, col) {
  svg.append("g")
      .selectAll("text")
      .data(data)
      .enter()
      .append("text")
      .attr("x", function(d) {return xScale(d[1]) + labelOffset[d[0]][0];})
      .attr("y", function(d) {return yScale(d[2]) + labelOffset[d[0]][1];})
      .style("font-size", "10.5px")
      .style("fill", col)
      .text(function(d) {return d[0];});
}

drawLabels(genesDown, "#5673c2");
drawLabels(genesUp, "#ee3434");


//counts
var navy = "#2b3990";
svg.append("path")
    .attr("d", "M99.5,73V93M93.5,86.5L99.5,93L105.5,86.5")
    .style("fill", "none")
    .style("stroke", navy)
    .style("stroke-width", 1.6);

svg.append("text")
    .attr("x", 110)
    .attr("y", 88)
    .style("font-size", "20px")
    .style("font-weight", "bold")
    .style("fill", navy)
    .text("N=" + nDown);

svg.append("path")
    .attr("d", "M363.5,95V70.5M357.5,77L363.5,70.5L369.5,77")
    .style("fill", "none")
    .style("stroke", red)
    .style("stroke-width", 1.6);

svg.append("text")
    .attr("x", 378)
    .attr("y", 88)
    .style("font-size", "20px")
    .style("font-weight", "bold")
    .style("fill", red)
    .text("N=" + nUp);


//titles
svg.append("text")
    .attr("x", 24)
    .attr("y", 47)
    .style("font-size", "43px")
    .style("fill", "#1a1a1a")
    .text("C");

svg.append("text")
    .attr("x", 257)
    .attr("y", 46)
    .style("text-anchor", "middle")
    .style("font-size", "31.5px")
    .style("fill", "#1a1a1a")
    .text("Bulk Proteome");

svg.append("text")
    .attr("transform", "translate(32,289) rotate(-90)")
    .style("text-anchor", "middle")
    .style("font-size", "26px")
    .style("fill", "#000")
    .text("\u2212log10 p value");

svg.append("text")
    .attr("x", 288)
    .attr("y", 566)
    .style("text-anchor", "middle")
    .style("font-size", "26px")
    .style("fill", "#000")
    .text("Log2FC: JTC-TurboID vs. Control");

</script>
</body>
</html>
